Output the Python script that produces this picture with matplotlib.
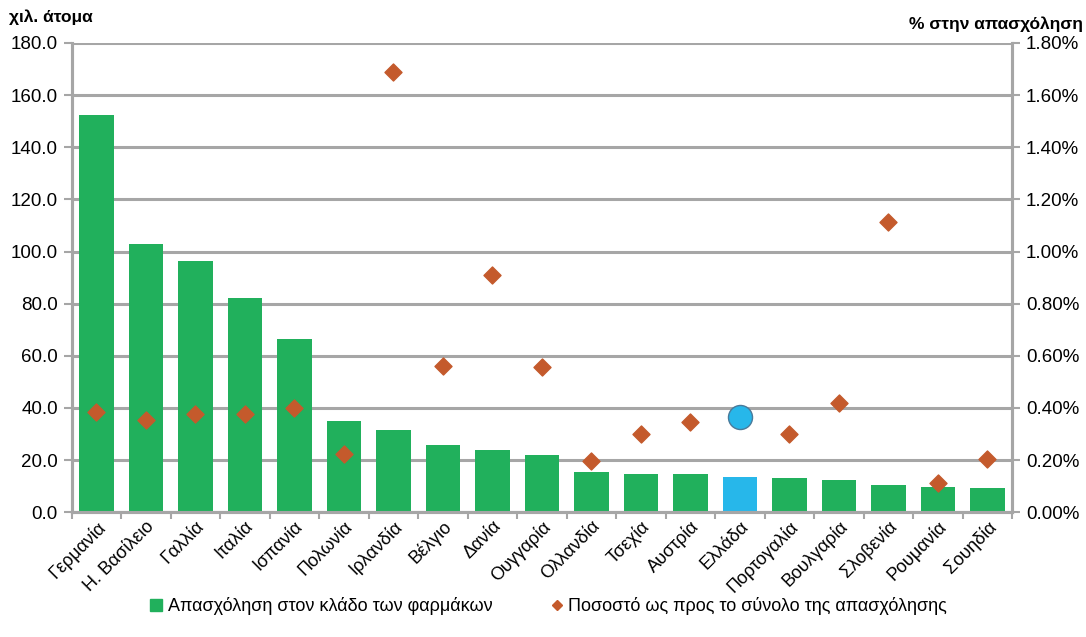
import numpy as np
import matplotlib.pyplot as plt
from matplotlib.lines import Line2D
from matplotlib.patches import Patch
from matplotlib.transforms import ScaledTranslation

countries = ['Γερμανία', 'Η. Βασίλειο', 'Γαλλία', 'Ιταλία', 'Ισπανία', 'Πολωνία',
             'Ιρλανδία', 'Βέλγιο', 'Δανία', 'Ουγγαρία', 'Ολλανδία', 'Τσεχία',
             'Αυστρία', 'Ελλάδα', 'Πορτογαλία', 'Βουλγαρία', 'Σλοβενία',
             'Ρουμανία', 'Σουηδία']
employment = [152.5, 103.0, 96.5, 82.0, 66.5, 35.0, 31.5, 25.8, 24.0, 22.0,
              15.5, 14.8, 14.5, 13.5, 13.0, 12.5, 10.5, 9.8, 9.3]
share = [0.385, 0.355, 0.375, 0.375, 0.400, 0.225, 1.69, 0.560, 0.910, 0.555,
         0.195, 0.300, 0.345, 0.365, 0.300, 0.420, 1.115, 0.110, 0.205]
highlight = 'Ελλάδα'

green = '#21b05c'
blue = '#27b7ea'
rust = '#c45a2c'
grid_gray = '#a6a6a6'

plt.rcParams['font.family'] = ['Liberation Sans', 'DejaVu Sans']

fig = plt.figure(figsize=(10.86, 6.37), dpi=100)
ax = fig.add_axes([0.066, 0.196, 0.866, 0.7365])
ax2 = ax.twinx()

x = np.arange(len(countries))
bar_colors = [blue if c == highlight else green for c in countries]
ax.bar(x, employment, width=0.7, color=bar_colors, zorder=2)

ax.set_ylim(0, 180)
ax.set_xlim(-0.5, len(countries) - 0.5)
ax.set_yticks(np.arange(0, 181, 20))
ax.set_yticklabels([f'{v:.1f}' for v in np.arange(0, 181, 20)], fontsize=13.5)
ax.yaxis.grid(True, color=grid_gray, linewidth=2.2, zorder=0)
ax.set_axisbelow(True)

ax.set_xticks(x)
ax.set_xticklabels(countries, rotation=45, ha='right', rotation_mode='anchor', fontsize=13)
shift = ScaledTranslation(0.16, 0, fig.dpi_scale_trans)
for lbl in ax.get_xticklabels():
    lbl.set_transform(lbl.get_transform() + shift)
ax.tick_params(axis='x', length=0, pad=4)
ax.set_xticks(np.arange(-0.5, len(countries), 1), minor=True)
ax.tick_params(axis='x', which='minor', length=5, width=1.5, color=grid_gray, direction='out')
ax.tick_params(axis='y', length=6, width=1.5, color=grid_gray, pad=4)

for a in (ax, ax2):
    a.spines['top'].set_visible(False)
    for side in ('left', 'right', 'bottom'):
        a.spines[side].set_color(grid_gray)
        a.spines[side].set_linewidth(2.2)

# share of total employment on the right axis
idx = [i for i, c in enumerate(countries) if c != highlight]
gi = countries.index(highlight)
ax2.scatter([x[i] for i in idx], [share[i] for i in idx], marker='D', s=75,
            color=rust, zorder=4)
ax2.scatter([x[gi]], [share[gi]], marker='o', s=300, color=blue,
            edgecolors='#4a7a9a', linewidths=1, zorder=4)
ax2.set_ylim(0, 1.8)
ax2.set_yticks(np.arange(0, 1.81, 0.2))
ax2.set_yticklabels([f'{v:.2f}%' for v in np.arange(0, 1.81, 0.2)], fontsize=13.5)
ax2.tick_params(axis='y', length=6, width=1.5, color=grid_gray, pad=4)

fig.text(0.008, 0.966, 'χιλ. άτομα', fontsize=12.5, fontweight='bold', ha='left')
fig.text(0.997, 0.955, '% στην απασχόληση', fontsize=12.5, fontweight='bold', ha='right')

handles = [Patch(color=green),
           Line2D([], [], marker='D', linestyle='none', color=rust, markersize=5)]
labels = ['Απασχόληση στον κλάδο των φαρμάκων',
          'Ποσοστό ως προς το σύνολο της απασχόλησης']
fig.legend(handles, labels, loc='center', bbox_to_anchor=(0.505, 0.048), ncol=2,
           frameon=False, fontsize=13, handlelength=0.7, handletextpad=0.3,
           columnspacing=3.2)

fig.savefig('out.png', dpi=100)
